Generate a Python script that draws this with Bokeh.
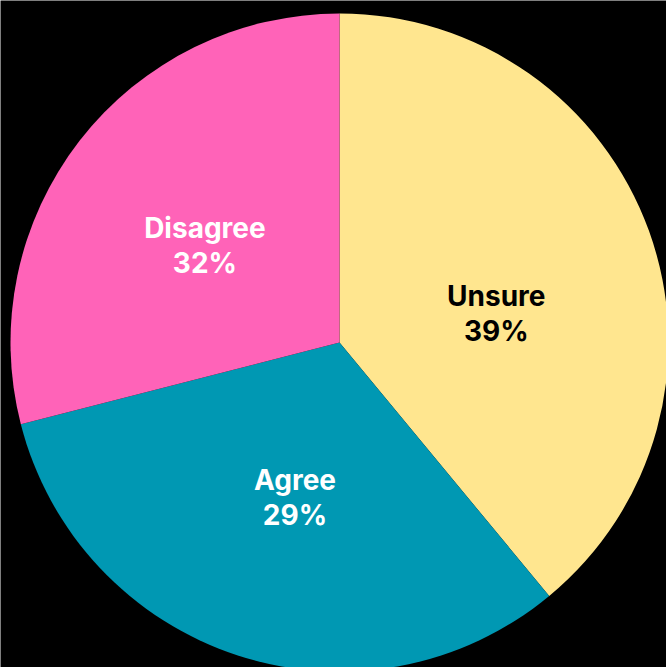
import math
from bokeh.plotting import figure
from bokeh.models import ColumnDataSource, Range1d
from bokeh.core.properties import value
from bokeh.embed import file_html
from bokeh.resources import INLINE

# Data (slices clockwise from 12 o'clock)
categories = ["Unsure", "Agree", "Disagree"]
shares = [39, 32, 29]                 # wedge sizes as drawn
label_pct = ["39%", "29%", "32%"]     # percentages printed on the chart
colors = ["#FFE68F", "#0098B3", "#FF63B8"]
text_colors = ["#000000", "#FFFFFF", "#FFFFFF"]
label_nudge_px = [(6, -26), (5, -3), (-8, -2)]

W, H = 666, 667
cx, cy = 339, H - 342
R = 329

total = sum(shares)
starts, ends, lx, ly_name, ly_pct = [], [], [], [], []
cum = 0.0
for i, s in enumerate(shares):
    a0 = cum / total * 2 * math.pi
    cum += s
    a1 = cum / total * 2 * math.pi
    starts.append(math.pi / 2 - a0)
    ends.append(math.pi / 2 - a1)
    mid = (a0 + a1) / 2
    r = 0.487 * R
    x = cx + r * math.sin(mid) + label_nudge_px[i][0]
    y = cy + r * math.cos(mid) + label_nudge_px[i][1]
    lx.append(x)
    ly_name.append(y + 18)
    ly_pct.append(y - 17)

src = ColumnDataSource(dict(start=starts, end=ends, color=colors,
                            lx=lx, yn=ly_name, yp=ly_pct,
                            name=categories, pct=label_pct, tcolor=text_colors))

p = figure(width=W, height=H, output_backend="svg", toolbar_location=None,
           x_range=Range1d(0, W), y_range=Range1d(0, H),
           min_border=0, background_fill_color="black", border_fill_color="black")
p.axis.visible = False
p.grid.visible = False
p.outline_line_color = None

p.wedge(x=cx, y=cy, radius=R, start_angle="start", end_angle="end",
        direction="clock", fill_color="color", line_color=None, source=src)

for col, ycol in (("name", "yn"), ("pct", "yp")):
    p.text(x="lx", y=ycol, text=col, text_color="tcolor", source=src,
           text_font=value("Inter"), text_font_style="bold", text_font_size="28px",
           text_align="center", text_baseline="alphabetic")

open("out.html", "w").write(file_html(p, INLINE))
